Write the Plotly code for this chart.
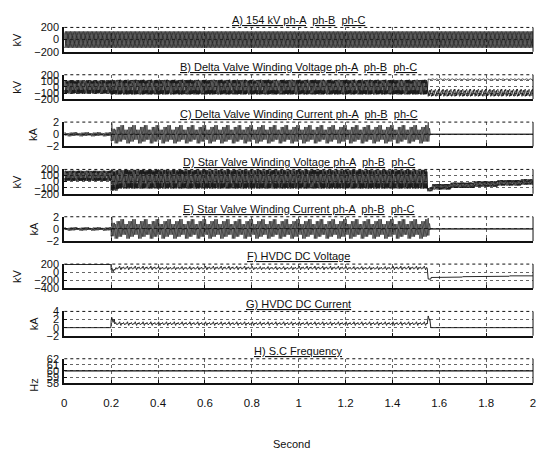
import numpy as np
import plotly.graph_objects as go

# ---------------------------------------------------------------- data
FREQ_HZ = 60
PTS_PER_CYCLE = 12
T_END = 2.0
PHASE_NAMES = ["ph-A", "ph-B", "ph-C"]
X_TICKS = [0, 0.2, 0.4, 0.6, 0.8, 1, 1.2, 1.4, 1.6, 1.8, 2]

# repeating wave shapes, per unit (12 samples per cycle)
SINE_PU = [0.0, 0.5, 0.87, 1.0, 0.87, 0.5, 0.0, -0.5, -0.87, -1.0, -0.87, -0.5]
VALVE_V_PU = [0.05, 0.6, 0.95, 0.55, 1.0, 0.7, 0.0, -0.5, -1.0, -0.45, -0.9, -0.7,
              0.0, 0.45, 0.8, 0.5, 0.95, 0.6, 0.05, -0.55, -0.85, -0.4, -1.0, -0.6]
VALVE_I_PU = [0.0, 0.1, 1.0, 0.1, 0.0, 0.05, 0.0, -0.1, -0.6, -0.1, 0.0, -0.05,
              0.0, 0.1, 0.5, 0.05, 0.0, 0.05, 0.0, -0.1, -1.0, -0.1, 0.0, 0.0,
              0.0, 0.05, 0.8, 0.1, 0.0, 0.0, 0.0, -0.05, -0.8, -0.1, 0.0, 0.05]
DC_RIPPLE_PU = [0.0, 0.7, 1.0, 0.4, -0.3, -0.8, -1.0, -0.6, -0.1, 0.3, 0.1, -0.2,
                0.0, 0.4, 0.6, 0.2, -0.2, -0.5, -0.7, -0.4, -0.1, 0.2, 0.1, -0.1]

# A) 154 kV bus voltage (kV)
A_SEG_T = [0.0]
A_MID = [[0], [0], [0]]
A_SWING = [[135], [135], [135]]

# B) delta valve winding voltage (kV)
B_SEG_T = [0.0, 0.2, 1.55]
B_MID = [[0, 0, 125], [0, -5, -90], [0, -5, -105]]
B_SWING = [[110, 120, 8], [110, 120, 55], [110, 120, 50]]

# C) delta valve winding current (kA)
C_SEG_T = [0.0, 0.2, 0.215, 1.55, 1.56]
C_MID = [[0, 0, 0, 0, 0]] * 3
C_SWING = [[0.35, 1.8, 1.5, 2.0, 0.0]] * 3

# D) star valve winding voltage (kV)
D_SEG_T = [0.0, 0.2, 0.23, 1.55, 1.57, 1.65, 1.75, 1.85, 1.95]
D_MID = [[95, 20, 40, -130, -85, -60, -40, -20, -5]] * 3
D_SWING = [[85, 170, 155, 30, 45, 45, 45, 45, 45]] * 3

# E) star valve winding current (kA)
E_SEG_T = [0.0, 0.2, 0.215, 1.55, 1.56]
E_MID = [[0, 0, 0, 0, 0]] * 3
E_SWING = [[0.3, 2.0, 1.6, 1.8, 0.0]] * 3

# F) HVDC DC voltage (kV)
F_SEG_T = [0.0, 0.2, 0.22, 0.4, 0.6, 0.8, 1.0, 1.2, 1.4, 1.55, 1.565, 1.6, 1.7, 1.8, 1.9]
F_MID = [[190, 60, 105, 100, 105, 100, 105, 100, 105, -170, -130, -120, -110, -100, -90]]
F_SWING = [[0, 50, 45, 40, 45, 40, 45, 40, 45, 0, 0, 0, 0, 0, 0]]

# G) HVDC DC current (kA)
G_SEG_T = [0.0, 0.2, 0.215, 1.55, 1.56]
G_MID = [[0.0, 1.9, 1.0, 2.4, 0.0]]
G_SWING = [[0.0, 0.6, 0.45, 0.8, 0.0]]

# H) S.C frequency (Hz)
H_SEG_T = [0.0]
H_MID = [[60.0]]
H_SWING = [[0.0]]

PANELS = [
    dict(title="<u>A) 154 kV ph-A</u>  <u>ph-B</u>  <u>ph-C</u>", unit="kV",
         seg=A_SEG_T, mid=A_MID, swing=A_SWING, shape=SINE_PU, lw=0.7,
         yr=[-200, 200], yt=[-200, 0, 200]),
    dict(title="<u>B) Delta Valve Winding Voltage ph-A</u>  <u>ph-B</u>  <u>ph-C</u>", unit="kV",
         seg=B_SEG_T, mid=B_MID, swing=B_SWING, shape=VALVE_V_PU, lw=0.7,
         yr=[-200, 200], yt=[-200, -100, 0, 100, 200]),
    dict(title="<u>C) Delta Valve Winding Current ph-A</u>  <u>ph-B</u>  <u>ph-C</u>", unit="kA",
         seg=C_SEG_T, mid=C_MID, swing=C_SWING, shape=VALVE_I_PU, lw=0.6,
         yr=[-2, 2], yt=[-2, 0, 2]),
    dict(title="<u>D) Star Valve Winding Voltage ph-A</u>  <u>ph-B</u>  <u>ph-C</u>", unit="kV",
         seg=D_SEG_T, mid=D_MID, swing=D_SWING, shape=VALVE_V_PU, lw=0.7,
         yr=[-200, 200], yt=[-200, -100, 0, 100, 200]),
    dict(title="<u>E) Star Valve Winding Current ph-A</u>  <u>ph-B</u>  <u>ph-C</u>", unit="kA",
         seg=E_SEG_T, mid=E_MID, swing=E_SWING, shape=VALVE_I_PU, lw=0.6,
         yr=[-2, 2], yt=[-2, 0, 2]),
    dict(title="<u>F) HVDC DC Voltage</u>", unit="kV",
         seg=F_SEG_T, mid=F_MID, swing=F_SWING, shape=DC_RIPPLE_PU, lw=0.9,
         yr=[-400, 200], yt=[-400, -200, 0, 200]),
    dict(title="<u>G) HVDC DC Current</u>", unit="kA",
         seg=G_SEG_T, mid=G_MID, swing=G_SWING, shape=DC_RIPPLE_PU, lw=0.9,
         yr=[-2, 4], yt=[-2, 0, 2, 4]),
    dict(title="<u>H) S.C Frequency</u>", unit="Hz",
         seg=H_SEG_T, mid=H_MID, swing=H_SWING, shape=SINE_PU, lw=1.2,
         yr=[58, 62], yt=[58, 59, 60, 61, 62]),
]

# ---------------------------------------------------------------- helpers
n_pts = int(round(T_END * FREQ_HZ * PTS_PER_CYCLE)) + 1
t = np.arange(n_pts) / (FREQ_HZ * PTS_PER_CYCLE)


def build_trace(seg_t, mid, swing, shape, shift):
    seg_idx = np.searchsorted(np.asarray(seg_t), t, side="right") - 1
    k = (np.arange(n_pts) + shift) % len(shape)
    return np.asarray(mid, float)[seg_idx] + np.asarray(swing, float)[seg_idx] * np.asarray(shape)[k]


# ---------------------------------------------------------------- layout geometry (px)
W, H = 538, 460
X_LEFT, X_RIGHT = 62, 536
BOX_TOP0, BOX_STEP, BOX_H = 22, 48.6, 25
INK = "#111111"
GRID = "#666666"
FONT = "Liberation Sans, Arial, sans-serif"


def py(px):
    return 1 - px / H


fig = go.Figure()
layout = dict(
    width=W, height=H, margin=dict(l=0, r=0, t=0, b=0),
    paper_bgcolor="white", plot_bgcolor="white", showlegend=False,
    font=dict(family=FONT, size=11, color=INK),
)
annotations, shapes = [], []

for i, p in enumerate(PANELS):
    n = i + 1
    xa, ya = ("xaxis" if n == 1 else f"xaxis{n}"), ("yaxis" if n == 1 else f"yaxis{n}")
    xr, yr = ("x" if n == 1 else f"x{n}"), ("y" if n == 1 else f"y{n}")
    top = BOX_TOP0 + i * BOX_STEP
    bot = top + BOX_H
    last = i == len(PANELS) - 1

    for ph in range(len(p["mid"])):
        y = build_trace(p["seg"], p["mid"][ph], p["swing"][ph], p["shape"], 4 * ph)
        fig.add_trace(go.Scatter(x=t, y=y, mode="lines", xaxis=xr, yaxis=yr,
                                 line=dict(color=INK, width=p["lw"]),
                                 name=PHASE_NAMES[ph] if len(p["mid"]) > 1 else p["unit"],
                                 hoverinfo="skip"))

    layout[xa] = dict(
        domain=[X_LEFT / W, X_RIGHT / W], anchor=yr, range=[0, 2],
        tickvals=X_TICKS, ticks="inside", ticklen=3, tickcolor=INK,
        showticklabels=last, tickfont=dict(size=11.5, family=FONT, color=INK),
        ticklabelstandoff=8, ticklabeloverflow="allow",
        showgrid=True, gridcolor=GRID, griddash="dot", gridwidth=1,
        showline=True, linecolor=INK, linewidth=2, zeroline=False,
    )
    layout[ya] = dict(
        domain=[py(bot), py(top)], anchor=xr, range=p["yr"],
        tickvals=p["yt"], ticks="inside", ticklen=3, tickcolor=INK,
        tickfont=dict(size=11, family=FONT, color=INK), ticklabelstandoff=1,
        ticklabeloverflow="allow",
        showgrid=True, gridcolor=GRID, griddash="dot", gridwidth=1,
        showline=True, linecolor=INK, linewidth=2, zeroline=False,
    )
    # top and right edges of the axes box
    shapes.append(dict(type="line", xref=f"{xr} domain", yref=f"{yr} domain",
                       x0=0, x1=1, y0=1, y1=1, line=dict(color=INK, width=1, dash="dot")))
    shapes.append(dict(type="line", xref=f"{xr} domain", yref=f"{yr} domain",
                       x0=1, x1=1, y0=0, y1=1, line=dict(color=INK, width=1)))

    annotations.append(dict(text=p["title"], xref="paper", yref="paper",
                            x=(X_LEFT + X_RIGHT) / 2 / W, y=py(top - 8),
                            xanchor="center", yanchor="middle", showarrow=False,
                            font=dict(size=11, family=FONT, color=INK)))
    unit_x = 14 if p["unit"] == "kV" else 31
    unit_y = (top + bot) / 2 if p["unit"] != "Hz" else bot + 2
    annotations.append(dict(text=p["unit"], xref="paper", yref="paper",
                            x=unit_x / W, y=py(unit_y), textangle=-90,
                            xanchor="center", yanchor="middle", showarrow=False,
                            font=dict(size=11, family=FONT, color=INK)))

annotations.append(dict(text="Second", xref="paper", yref="paper",
                        x=292 / W, y=py(450), xanchor="center", yanchor="middle",
                        showarrow=False, font=dict(size=11, family=FONT, color=INK)))

layout["annotations"] = annotations
layout["shapes"] = shapes
fig.update_layout(**layout)
fig.write_html("out.html")
